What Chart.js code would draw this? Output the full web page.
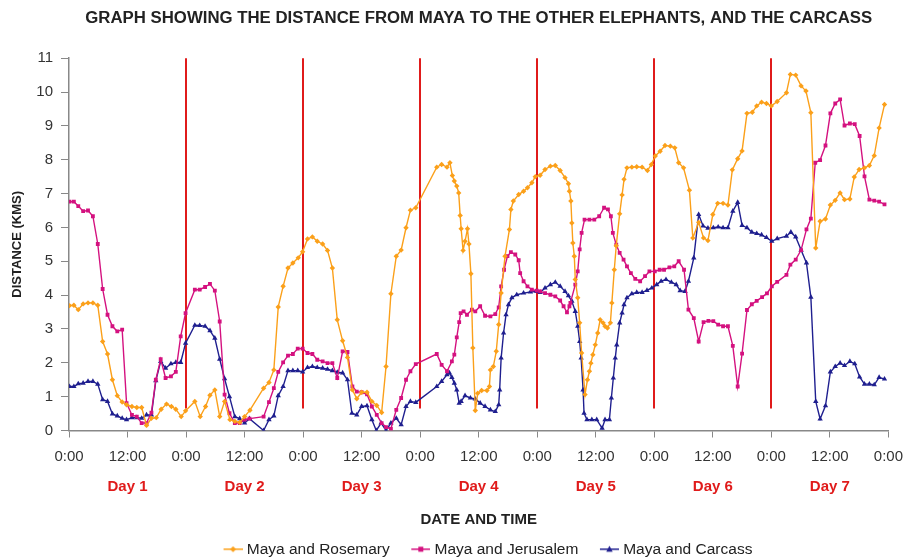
<!DOCTYPE html>
<html lang="en">
<head>
  <meta charset="UTF-8" />
  <title>Distance from Maya</title>
  <script src="https://cdn.jsdelivr.net/npm/chart.js"></script>
  <style>
    html, body { margin: 0; padding: 0; background: #fff; }
    #wrap { width: 908px; height: 559px; }
  </style>
</head>
<body>
  <div id="wrap"><canvas id="distChart"></canvas></div>

  <script>
    // hours since 0:00 of day 1, distance in km
    const roseHours = [0.1,1.0,1.9,2.9,3.9,4.9,5.9,6.9,7.9,8.9,9.9,10.9,11.8,12.9,13.9,14.9,15.9,16.9,17.9,18.9,20.0,21.0,21.9,23.0,23.9,25.8,26.9,28.0,28.9,29.9,30.9,31.9,33.0,34.0,35.0,36.0,37.1,39.9,41.0,42.0,42.9,43.9,44.9,45.9,47.0,47.9,48.9,49.9,50.9,52.0,53.0,54.0,55.0,56.1,57.1,58.1,59.0,60.0,61.1,62.1,63.1,64.1,65.0,66.0,67.1,68.1,69.1,70.0,71.1,75.4,76.4,77.5,78.1,78.6,79.0,79.5,79.9,80.2,80.4,80.8,81.2,81.7,82.0,82.4,82.8,83.3,83.8,84.6,85.7,86.2,86.4,87.0,87.6,88.1,88.6,89.4,90.3,90.6,91.1,92.2,93.2,94.0,94.9,95.6,96.6,97.6,98.7,99.7,100.7,101.7,102.4,102.6,102.9,103.1,103.3,103.6,103.8,104.3,104.7,105.1,105.8,106.3,106.7,107.0,107.4,107.9,108.4,108.9,109.5,109.9,110.4,111.0,111.3,111.8,112.2,112.9,113.4,113.8,114.4,115.4,116.4,117.5,118.6,119.4,120.2,121.2,122.2,123.3,124.2,125.0,126.0,127.2,127.9,129.1,130.1,131.0,132.0,133.0,134.1,135.1,136.0,137.1,138.0,139.0,140.1,141.0,142.0,143.0,144.0,145.2,147.1,147.9,149.0,150.1,151.1,152.1,153.1,154.0,155.1,156.1,157.1,158.1,159.0,160.1,161.0,162.0,163.1,164.1,165.1,166.1,167.2];
    const roseKm = [3.69,3.70,3.57,3.74,3.77,3.77,3.70,2.63,2.26,1.50,1.03,0.84,0.76,0.71,0.68,0.68,0.15,0.36,0.38,0.63,0.78,0.71,0.63,0.41,0.58,0.86,0.41,0.71,1.04,1.20,0.41,0.86,0.32,0.27,0.24,0.41,0.60,1.25,1.42,1.79,3.65,4.26,4.80,4.95,5.10,5.28,5.66,5.72,5.59,5.51,5.32,4.80,3.27,2.65,2.16,1.20,0.94,1.13,1.13,0.86,0.74,0.53,1.89,4.04,5.15,5.33,5.99,6.51,6.58,7.78,7.86,7.78,7.91,7.53,7.37,7.22,7.02,6.35,5.96,5.32,5.59,5.96,5.51,4.63,2.44,0.59,1.10,1.18,1.18,1.30,1.79,1.89,2.34,3.13,4.06,5.15,5.94,6.53,6.78,6.97,7.07,7.17,7.32,7.50,7.54,7.71,7.81,7.83,7.68,7.47,7.29,7.07,6.78,6.13,5.54,5.15,4.46,3.92,3.18,2.29,1.06,1.50,1.75,1.99,2.24,2.53,2.88,3.27,3.18,3.08,3.03,3.18,3.77,4.75,5.46,6.40,6.96,7.42,7.76,7.78,7.79,7.78,7.68,7.86,8.11,8.25,8.42,8.40,8.35,7.91,7.76,7.10,5.69,6.15,5.69,5.61,6.38,6.71,6.71,6.66,7.70,8.03,8.26,9.37,9.40,9.59,9.70,9.66,9.59,9.72,9.98,10.52,10.50,10.18,10.03,9.39,5.39,6.18,6.25,6.66,6.80,7.02,6.82,6.84,7.49,7.71,7.76,7.83,8.12,8.94,9.63];

    const jeruHours = [0.1,1.0,1.9,2.9,3.9,4.9,5.9,6.9,7.9,8.9,9.9,10.9,11.8,12.9,13.9,14.9,15.9,16.9,17.8,18.8,19.8,20.9,21.9,22.9,23.9,25.8,26.8,27.9,28.9,29.9,30.9,31.9,32.9,34.0,35.0,36.0,37.0,39.9,41.0,42.0,42.9,43.9,44.9,45.9,46.9,47.9,48.9,49.9,50.9,52.0,53.0,54.0,55.0,56.1,57.1,58.1,59.0,60.0,61.1,62.1,63.1,64.1,65.0,66.0,67.1,68.1,69.1,70.0,71.1,75.4,76.4,77.5,78.5,79.0,79.5,80.0,80.3,80.9,81.6,82.6,83.3,84.3,85.3,86.4,87.4,88.1,88.6,89.2,89.9,90.6,91.5,92.2,92.5,93.2,94.0,94.9,95.9,96.6,97.6,98.7,99.7,100.7,101.4,102.1,102.6,102.8,103.8,104.3,104.7,105.1,105.7,106.7,107.7,108.7,109.7,110.5,111.1,111.5,112.2,112.9,113.7,114.4,115.2,116.1,117.1,118.1,119.0,120.1,121.1,122.0,123.1,124.1,125.0,126.1,127.0,128.1,129.1,130.1,131.1,132.1,133.1,134.1,135.1,136.1,137.1,138.0,139.0,140.0,141.0,142.1,143.1,144.1,145.2,147.1,147.9,149.0,150.1,151.2,152.1,153.0,154.0,155.1,156.1,157.1,158.1,159.0,160.1,161.1,162.1,163.1,164.1,165.1,166.1,167.2];
    const jeruKm = [6.76,6.76,6.63,6.48,6.50,6.33,5.51,4.18,3.42,3.08,2.93,2.98,0.81,0.46,0.41,0.22,0.22,0.53,1.50,2.11,1.55,1.60,1.73,2.78,3.47,4.16,4.16,4.24,4.33,4.13,3.22,1.06,0.51,0.22,0.22,0.32,0.35,0.41,0.84,1.25,1.73,2.01,2.21,2.26,2.42,2.42,2.29,2.26,2.09,2.04,1.99,1.99,1.55,2.34,2.32,1.30,1.15,1.13,1.07,0.71,0.46,0.22,0.10,0.05,0.61,0.96,1.50,1.75,1.96,2.26,1.94,1.75,2.04,2.24,2.75,3.20,3.47,3.52,3.42,3.57,3.52,3.67,3.39,3.37,3.44,3.64,4.26,4.75,5.15,5.27,5.20,5.03,4.65,4.41,4.26,4.16,4.13,4.11,4.06,4.01,3.96,3.84,3.67,3.49,3.67,3.77,4.31,4.70,5.35,5.84,6.23,6.23,6.23,6.33,6.58,6.53,6.33,5.84,5.49,5.25,5.05,4.85,4.65,4.48,4.41,4.56,4.70,4.70,4.75,4.75,4.82,4.85,5.00,4.75,3.57,3.32,2.63,3.20,3.24,3.23,3.13,3.08,3.08,2.50,1.30,2.27,3.56,3.73,3.83,3.94,4.05,4.26,4.39,4.60,4.90,5.05,5.33,5.94,6.26,7.91,7.99,8.42,9.37,9.66,9.78,9.01,9.07,9.05,8.70,7.51,6.82,6.79,6.76,6.68];

    const carcHours = [0.1,1.0,1.9,2.9,3.9,4.9,5.9,6.9,7.9,8.9,9.9,10.9,11.8,12.9,13.9,14.9,15.9,16.9,17.8,18.8,19.8,20.9,21.9,22.9,23.9,25.8,26.8,27.9,28.9,29.9,30.9,31.9,32.9,34.0,35.0,36.0,37.0,39.9,41.0,42.0,42.9,43.9,44.9,45.9,46.9,47.9,48.9,49.9,50.9,52.0,53.0,54.0,55.0,56.1,57.1,58.0,59.0,60.0,61.1,62.1,63.0,64.0,65.0,66.0,67.1,68.1,69.1,70.0,71.1,75.4,76.4,77.5,78.0,78.5,79.0,79.5,80.0,80.4,81.2,82.3,83.3,84.3,85.3,86.4,87.4,88.1,88.3,88.6,89.1,89.6,90.1,90.8,91.8,93.2,94.6,95.9,96.6,97.6,98.7,99.7,100.7,101.7,102.4,103.1,103.8,104.3,104.7,105.0,105.4,105.6,106.2,107.2,108.2,109.3,109.9,110.8,111.2,111.6,112.0,112.3,112.9,113.4,113.8,114.4,115.4,116.4,117.5,118.5,119.5,120.5,121.4,122.4,123.5,124.5,125.3,126.3,127.0,128.1,129.1,130.0,131.0,132.1,133.1,134.1,135.1,136.1,137.1,138.0,139.0,140.0,141.0,142.0,143.0,144.1,145.2,147.1,148.0,149.0,150.1,151.2,152.1,153.1,154.0,155.1,156.1,157.1,158.1,159.0,160.1,161.1,162.1,163.1,164.1,165.1,166.1,167.2];
    const carcKm = [1.30,1.30,1.38,1.40,1.45,1.45,1.37,0.91,0.86,0.49,0.43,0.36,0.32,0.38,0.38,0.36,0.46,0.46,1.47,2.04,1.84,1.97,2.01,2.01,2.58,3.11,3.10,3.08,2.95,2.73,2.11,1.53,1.00,0.41,0.35,0.22,0.35,0.00,0.32,0.43,1.03,1.30,1.77,1.77,1.77,1.73,1.86,1.89,1.86,1.84,1.81,1.77,1.72,1.70,1.50,0.51,0.46,0.71,0.73,0.32,0.00,0.22,0.00,0.22,0.36,0.17,0.71,0.86,0.83,1.30,1.45,1.65,1.70,1.57,1.40,1.20,0.81,0.86,1.03,0.96,0.93,0.81,0.71,0.61,0.56,0.76,1.20,2.14,2.88,3.42,3.72,3.92,4.01,4.06,4.09,4.11,4.08,4.21,4.31,4.38,4.26,4.11,3.98,3.82,3.52,3.08,2.63,2.14,1.20,0.51,0.32,0.32,0.32,0.07,0.32,0.32,0.96,1.55,2.14,2.53,3.18,3.47,3.72,3.92,4.04,4.08,4.08,4.14,4.21,4.31,4.41,4.46,4.38,4.31,4.13,4.11,4.41,5.10,6.38,6.04,5.98,5.99,6.01,5.99,5.99,6.48,6.74,6.06,5.99,5.86,5.82,5.78,5.70,5.59,5.67,5.74,5.86,5.72,5.33,4.95,3.94,0.86,0.34,0.73,1.73,1.89,1.99,1.92,2.04,1.97,1.58,1.37,1.37,1.35,1.57,1.52];

    const seriesNames = ['Maya and Rosemary', 'Maya and Jerusalem', 'Maya and Carcass'];
    const timeLabels = ['0:00', '12:00'];
    const dayLabels = ['Day 1', 'Day 2', 'Day 3', 'Day 4', 'Day 5', 'Day 6', 'Day 7'];
    const dayLineHours = [24, 48, 72, 96, 120, 144];
    const dayLineFrom = 0.65;

    const FONT = "'Liberation Sans', Arial, sans-serif";
    const ORANGE = '#FBA01A', MAGENTA = '#D4117F', NAVY = '#1F1F8F', RED = '#E01B1B';

    const toPoints = (hs, ks) => hs.map((h, i) => ({ x: h, y: ks[i] }));

    // legend icon: short line with the marker on it; transparent on the left
    // so the gap between legend items comes out like the original
    function legendIcon(color, shape) {
      const c = document.createElement('canvas');
      c.width = 41; c.height = 10;
      const g = c.getContext('2d');
      g.strokeStyle = color; g.fillStyle = color; g.lineWidth = 1.5;
      g.beginPath(); g.moveTo(22, 5); g.lineTo(41, 5); g.stroke();
      const cx = 31.5, cy = 5;
      g.beginPath();
      if (shape === 'rect') g.rect(cx - 2.5, cy - 2.5, 5, 5);
      else if (shape === 'triangle') { g.moveTo(cx, cy - 3.5); g.lineTo(cx + 3.2, cy + 2.5); g.lineTo(cx - 3.2, cy + 2.5); g.closePath(); }
      else { g.moveTo(cx, cy - 3); g.lineTo(cx + 3, cy); g.lineTo(cx, cy + 3); g.lineTo(cx - 3, cy); g.closePath(); }
      g.fill();
      return c;
    }

    const dayLinesPlugin = {
      id: 'dayLines',
      beforeDatasetsDraw(chart) {
        const { ctx, scales: { x, y } } = chart;
        ctx.save();
        ctx.strokeStyle = RED;
        ctx.lineWidth = 2;
        dayLineHours.forEach(h => {
          const px = Math.round(x.getPixelForValue(h));
          ctx.beginPath();
          ctx.moveTo(px, y.getPixelForValue(dayLineFrom));
          ctx.lineTo(px, y.getPixelForValue(11));
          ctx.stroke();
        });
        ctx.restore();
      }
    };

    function series(label, hs, ks, color, shape, radius) {
      return {
        label: label,
        data: toPoints(hs, ks),
        borderColor: color,
        backgroundColor: color,
        borderWidth: 1.4,
        pointStyle: shape,
        pointRadius: radius,
        pointBorderWidth: 0,
        pointHoverRadius: radius,
        tension: 0,
        legendIcon: legendIcon(color, shape)
      };
    }

    const ctx = document.getElementById('distChart').getContext('2d');
    new Chart(ctx, {
      type: 'line',
      data: {
        datasets: [
          series(seriesNames[0], roseHours, roseKm, ORANGE, 'rectRot', 2.7),
          series(seriesNames[1], jeruHours, jeruKm, MAGENTA, 'rect', 2.7),
          series(seriesNames[2], carcHours, carcKm, NAVY, 'triangle', 3.1)
        ]
      },
      plugins: [dayLinesPlugin],
      options: {
        responsive: true,
        maintainAspectRatio: false,
        animation: false,
        layout: { padding: { left: 0, right: 15, top: 0, bottom: -8 } },
        plugins: {
          tooltip: { enabled: false },
          title: {
            display: true,
            fullSize: false,
            text: 'GRAPH SHOWING THE DISTANCE FROM MAYA TO THE OTHER ELEPHANTS, AND THE CARCASS',
            color: '#222',
            font: { family: FONT, size: 16.8, weight: 'bold' },
            padding: { top: 8, bottom: 30 }
          },
          legend: {
            position: 'bottom',
            fullSize: false,
            labels: {
              usePointStyle: true,
              pointStyleWidth: 34,
              padding: 3,
              color: '#222',
              font: { family: FONT, size: 15.5 },
              generateLabels(chart) {
                return chart.data.datasets.map((ds, i) => ({
                  text: ds.label,
                  pointStyle: ds.legendIcon,
                  fillStyle: ds.borderColor,
                  strokeStyle: ds.borderColor,
                  lineWidth: 0,
                  fontColor: '#222',
                  datasetIndex: i
                }));
              }
            }
          }
        },
        scales: {
          x: {
            type: 'linear',
            position: 'bottom',
            weight: 0,
            min: 0,
            max: 168,
            grid: { drawOnChartArea: false, tickLength: 7, color: '#888' },
            border: { color: '#888', width: 1.5 },
            ticks: {
              stepSize: 12,
              padding: 5,
              maxRotation: 0,
              autoSkip: false,
              color: '#333',
              font: { family: FONT, size: 15, lineHeight: 1.87 },
              callback: v => timeLabels[(v / 12) % 2]
            },
            afterFit: s => { s.height = 35; }
          },
          days: {
            type: 'linear',
            position: 'bottom',
            weight: 1,
            min: 0,
            max: 168,
            grid: { display: false },
            border: { display: false },
            afterBuildTicks: s => { s.ticks = dayLabels.map((_, i) => ({ value: 12 + 24 * i })); },
            ticks: {
              padding: 4,
              maxRotation: 0,
              autoSkip: false,
              color: RED,
              font: { family: FONT, size: 15, weight: 'bold' },
              callback: (v, i) => dayLabels[i]
            },
            title: {
              display: true,
              text: 'DATE AND TIME',
              color: '#222',
              font: { family: FONT, size: 15, weight: 'bold' },
              padding: { top: 0, bottom: 10 }
            },
            afterFit: s => { s.height = 73; }
          },
          y: {
            min: 0,
            max: 11,
            grid: { drawOnChartArea: false, tickLength: 8, color: '#888' },
            border: { color: '#888', width: 1.5 },
            ticks: {
              stepSize: 1,
              padding: 8,
              color: '#333',
              font: { family: FONT, size: 15 }
            },
            title: {
              display: true,
              text: 'DISTANCE (KMS)',
              color: '#222',
              font: { family: FONT, size: 13, weight: 'bold' },
              padding: { top: 10, bottom: 0 }
            },
            afterFit: s => { s.width = 69; }
          }
        }
      }
    });
  </script>
</body>
</html>
